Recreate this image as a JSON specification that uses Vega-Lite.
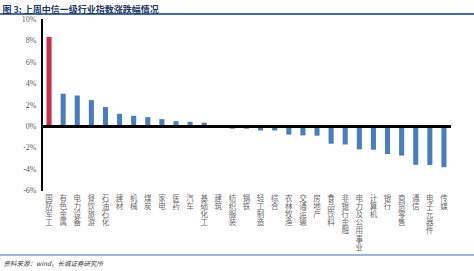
{
  "$schema": "https://vega.github.io/schema/vega-lite/v6.json",
  "width": 474,
  "height": 271,
  "autosize": {"type": "none"},
  "padding": 0,
  "background": "white",
  "config": {"view": {"stroke": null}, "font": "Noto Sans CJK SC", "axis": {"labelOverlap": false}, "axisY": {"labelOverlap": false}},
  "data": {
    "values": [
      {"industry": "国防军工", "change": 8.38},
      {"industry": "有色金属", "change": 3.06},
      {"industry": "电力设备", "change": 2.9},
      {"industry": "餐饮旅游", "change": 2.47},
      {"industry": "石油石化", "change": 1.82},
      {"industry": "建材", "change": 1.19},
      {"industry": "机械", "change": 1.0},
      {"industry": "煤炭", "change": 0.88},
      {"industry": "家电", "change": 0.69},
      {"industry": "医药", "change": 0.5},
      {"industry": "汽车", "change": 0.44},
      {"industry": "基础化工", "change": 0.36},
      {"industry": "建筑", "change": 0.12},
      {"industry": "纺织服装", "change": -0.2},
      {"industry": "钢铁", "change": -0.2},
      {"industry": "轻工制造", "change": -0.37},
      {"industry": "综合", "change": -0.37},
      {"industry": "农林牧渔", "change": -0.76},
      {"industry": "交通运输", "change": -0.83},
      {"industry": "房地产", "change": -0.86},
      {"industry": "食品饮料", "change": -1.61},
      {"industry": "非银行金融", "change": -1.68},
      {"industry": "电力及公用事业", "change": -2.14},
      {"industry": "计算机", "change": -2.17},
      {"industry": "银行", "change": -2.58},
      {"industry": "商贸零售", "change": -2.72},
      {"industry": "通信", "change": -3.58},
      {"industry": "电子元器件", "change": -3.6},
      {"industry": "传媒", "change": -3.81}
    ]
  },
  "layer": [
    {
      "mark": {"type": "bar", "width": {"band": 0.36}},
      "encoding": {
        "x": {
          "field": "industry",
          "type": "nominal",
          "sort": null,
          "scale": {"paddingInner": 0, "paddingOuter": 0, "range": [42, 451]},
          "axis": {
            "orient": "bottom",
            "offset": -80,
            "domain": false,
            "ticks": false,
            "labelAngle": 0,
            "labelExpr": "split(datum.label, '')",
            "labelBaseline": "top",
            "labelLineHeight": 8.2,
            "labelFontSize": 7.5,
            "labelColor": "#6A6A6A",
            "labelPadding": 3,
            "labelFont": "Noto Sans CJK SC",
            "labelOverlap": false,
            "title": "资料来源：wind，长城证券研究所",
            "titleX": 3,
            "titleY": 72,
            "titleAlign": "left",
            "titleBaseline": "middle",
            "titleFontSize": 6.5,
            "titleFontStyle": "italic",
            "titleFontWeight": "normal",
            "titleColor": "#404040",
            "titleFont": "Noto Sans CJK SC"
          }
        },
        "y": {
          "field": "change",
          "type": "quantitative",
          "scale": {"domain": [-13.517, 11.834], "nice": false, "zero": false},
          "axis": {
            "orient": "left",
            "offset": -42,
            "zindex": 1,
            "values": [-6, -4, -2, 0, 2, 4, 6, 8, 10],
            "tickCount": 9,
            "labelExpr": "datum.value + '%'",
            "labelOverlap": false,
            "labelBound": false,
            "labelFlush": false,
            "labelBaseline": "middle",
            "domain": false,
            "ticks": false,
            "grid": false,
            "labelPadding": 6,
            "labelFont": "Liberation Serif",
            "labelFontSize": 8,
            "labelColor": "#595959",
            "title": "图 3:  上周中信一级行业指数涨跌幅情况",
            "titleX": -40,
            "titleY": 12,
            "titleAngle": 0,
            "titleAlign": "left",
            "titleBaseline": "alphabetic",
            "titleFontSize": 9,
            "titleFontWeight": "bold",
            "titleColor": "#1F3864",
            "titleFont": "Noto Sans CJK SC"
          }
        },
        "color": {
          "condition": {"test": "datum.industry === '国防军工'", "value": "#C5314A"},
          "value": "#4A7EBB"
        }
      }
    },
    {
      "mark": {"type": "rule", "color": "#4A6FA5", "strokeWidth": 1},
      "encoding": {"y": {"datum": 10.5}}
    },
    {
      "mark": {"type": "rule", "color": "#9DB5D5", "strokeWidth": 1},
      "encoding": {"y": {"datum": -12.02}}
    },
    {
      "mark": {"type": "rule", "color": "black", "strokeWidth": 1.5},
      "encoding": {
        "x": {"datum": "国防军工", "bandPosition": 0},
        "y": {"datum": 10},
        "y2": {"datum": -6}
      }
    },
    {
      "mark": {"type": "rule", "color": "black", "strokeWidth": 1.5},
      "encoding": {
        "x": {"datum": "国防军工", "bandPosition": 0},
        "x2": {"datum": "传媒", "bandPosition": 1},
        "y": {"datum": 0}
      }
    }
  ]
}
